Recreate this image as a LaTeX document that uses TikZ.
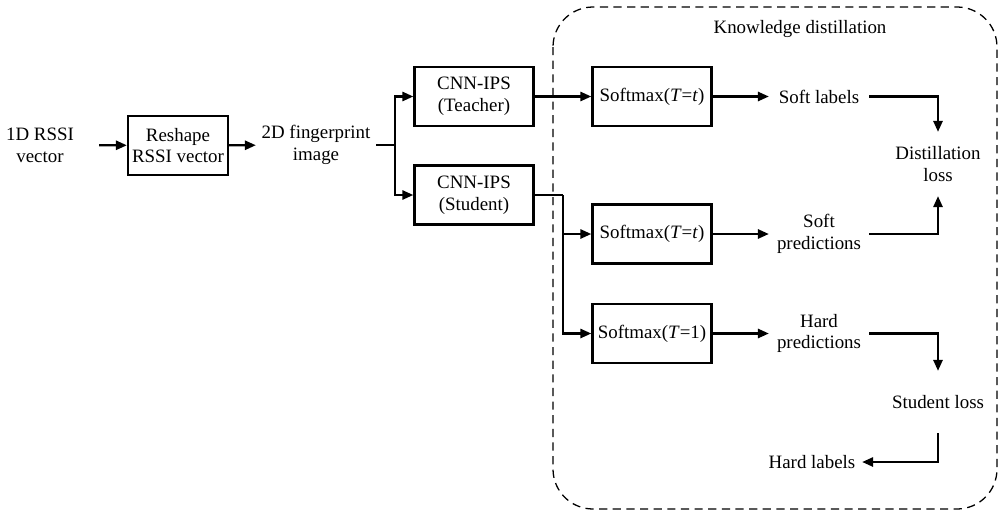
\documentclass[tikz,border=0pt]{standalone}
\usepackage{fontspec}
\setmainfont{Liberation Serif}
\usetikzlibrary{arrows.meta}

\begin{document}
\begin{tikzpicture}[
    x=0.55pt, y=-0.55pt,
    font=\fontsize{10.4}{12}\selectfont,
    >={Triangle[length=6pt, width=5pt]},
    every path/.style={line width=1.25pt},
    boxnode/.style={draw, align=center, inner sep=0pt, minimum width=65.5pt, minimum height=32.5pt},
    textnode/.style={align=center, inner sep=0pt, minimum width=53.9pt, minimum height=32.5pt},
    ]

    \useasboundingbox (0,0) rectangle (999,512);

    % knowledge distillation frame
    \draw[line width=0.7pt, dash pattern=on 4.5pt off 3pt, rounded corners=22pt] (553,7) rectangle (997,509);
    \node (kd) at (800,29) {Knowledge distillation};

    \node[textnode, minimum width=63.8pt] (vec)      at (40,145)    {1D RSSI\\vector};
    \node[boxnode, minimum width=55pt]    (reshape)  at (178,145.5) {Reshape\\RSSI vector};
    \node[textnode, minimum width=64.9pt] (img)      at (316,145)   {2D fingerprint\\image};

    \node[boxnode]  (teacher)  at (474,96.5)  {CNN-IPS\\(Teacher)};
    \node[boxnode]  (student)  at (474,195)   {CNN-IPS\\(Student)};

    \node[boxnode]  (smt)      at (652,96.5)  {Softmax(\textit{T}=\textit{t})};
    \node[boxnode]  (sms)      at (652,234)   {Softmax(\textit{T}=\textit{t})};
    \node[boxnode]  (smh)      at (652,333.5) {Softmax(\textit{T}=1)};

    \node[textnode] (softlab)  at (819,96.5)  {Soft labels};
    \node[textnode] (softpred) at (819,234)   {Soft\\predictions};
    \node[textnode] (hardpred) at (819,333.5) {Hard\\predictions};
    \node[textnode] (hardlab)  at (812,462)   {Hard labels};

    \node[textnode, minimum height=34.1pt] (distloss) at (938,164) {Distillation\\loss};
    \node[textnode, minimum height=33pt]   (studloss) at (938,402) {Student loss};

    \coordinate (split) at (395,145);
    \coordinate (fork)  at (563,195);

    \draw[->] (vec) -- (reshape);
    \draw[->] (reshape) -- (img);
    \draw (img.east) -- (split);
    \draw[->] (split) |- (teacher.west);
    \draw[->] (split) |- (student.west);

    \draw[->] (teacher) -- (smt);
    \draw (student.east) -- (fork);
    \draw[->] (fork) |- (sms.west);
    \draw[->] (fork) |- (smh.west);

    \draw[->] (smt) -- (softlab);
    \draw[->] (sms) -- (softpred);
    \draw[->] (smh) -- (hardpred);

    \draw[->] (softlab) -| (distloss);
    \draw[->] (softpred) -| (distloss);
    \draw[->] (hardpred) -| (studloss);
    \draw[->] (studloss) |- (hardlab);

\end{tikzpicture}
\end{document}
